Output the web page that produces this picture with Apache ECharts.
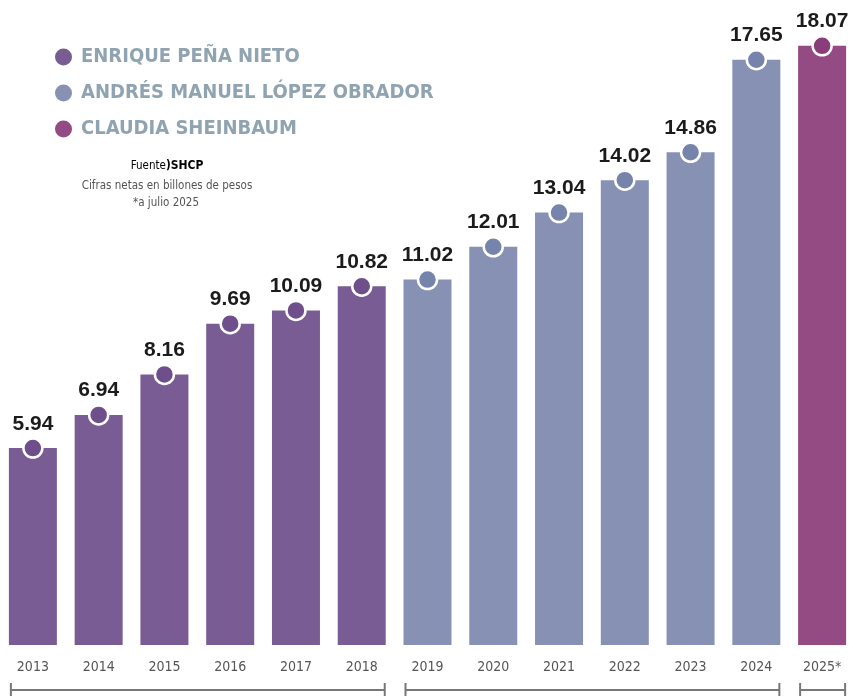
<!DOCTYPE html>
<html>
<head>
<meta charset="utf-8">
<script src="https://cdn.jsdelivr.net/npm/echarts@6/dist/echarts.min.js"></script>
<style>
  html, body { margin: 0; padding: 0; background: #fff; }
  #main { width: 855px; height: 696px; }
</style>
</head>
<body>
<div id="main"></div>
<script>
  // datos
  var years = ['2013', '2014', '2015', '2016', '2017', '2018', '2019', '2020', '2021', '2022', '2023', '2024', '2025*'];
  var values = [5.94, 6.94, 8.16, 9.69, 10.09, 10.82, 11.02, 12.01, 13.04, 14.02, 14.86, 17.65, 18.07];
  var presidents = ['ENRIQUE PEÑA NIETO', 'ANDRÉS MANUEL LÓPEZ OBRADOR', 'CLAUDIA SHEINBAUM'];
  var term = [0, 0, 0, 0, 0, 0, 1, 1, 1, 1, 1, 1, 2];

  var barColors = ['#7a5c95', '#8791b4', '#944a82'];
  var dotColors = ['#6f4f8b', '#7683ab', '#8a3d78'];
  var cond = 'DejaVu Sans Condensed, sans-serif';

  var chart = echarts.init(document.getElementById('main'));

  function pick(p) {
    return values.map(function (v, i) { return term[i] === p ? v : '-'; });
  }

  var series = [];
  presidents.forEach(function (name, p) {
    series.push({
      name: name,
      type: 'bar',
      stack: 'all',
      barWidth: 48,
      itemStyle: { color: barColors[p] },
      data: pick(p)
    });
  });
  presidents.forEach(function (name, p) {
    series.push({
      name: 'pt' + p,
      type: 'scatter',
      symbol: 'circle',
      symbolSize: 19,
      itemStyle: { color: dotColors[p], borderColor: '#fff', borderWidth: 2.5, opacity: 1 },
      label: {
        show: true,
        position: 'top',
        distance: 3,
        formatter: function (d) { return d.value.toFixed(2); },
        color: '#1b1b1b',
        fontFamily: 'Liberation Sans',
        fontWeight: 'bold',
        fontSize: 21
      },
      z: 5,
      data: pick(p)
    });
  });

  var option = {
    backgroundColor: '#fff',
    animation: false,
    grid: { left: 0, right: -3, top: 15, bottom: 51 },
    legend: {
      data: presidents,
      orient: 'vertical',
      left: 50,
      top: 42,
      icon: 'circle',
      itemWidth: 17,
      itemHeight: 17,
      itemGap: 16,
      textStyle: {
        color: '#8fa3b1',
        fontFamily: cond,
        fontWeight: 'bold',
        fontSize: 20,
        padding: [0, 0, 0, 4]
      }
    },
    xAxis: {
      type: 'category',
      data: years,
      axisLine: { show: false },
      axisTick: { show: false },
      axisLabel: {
        color: '#555',
        fontSize: 14,
        margin: 15,
        fontFamily: cond
      }
    },
    yAxis: {
      type: 'value',
      min: 0,
      max: 19,
      show: false
    },
    graphic: [{
      type: 'text',
      x: 167,
      y: 166,
      style: {
        text: '{a|Fuente}{b|)}{c|SHCP}',
        align: 'center',
        verticalAlign: 'middle',
        rich: {
          a: { fontSize: 11.5, color: '#555', fontFamily: cond },
          b: { fontSize: 11.5, color: '#6f4f8b', fontWeight: 'bold', fontFamily: cond },
          c: { fontSize: 12, color: '#222', fontWeight: 'bold', fontFamily: cond }
        }
      }
    }, {
      type: 'text',
      x: 167,
      y: 186,
      style: { text: 'Cifras netas en billones de pesos', align: 'center', verticalAlign: 'middle', fontSize: 11.5, fill: '#555', fontFamily: cond }
    }, {
      type: 'text',
      x: 166,
      y: 203,
      style: { text: '*a julio 2025', align: 'center', verticalAlign: 'middle', fontSize: 11.5, fill: '#555', fontFamily: cond }
    }],
    series: series
  };
  chart.setOption(option);

  // corchetes por sexenio
  var brackets = [];
  presidents.forEach(function (name, p) {
    var idx = [];
    term.forEach(function (t, i) { if (t === p) idx.push(i); });
    var x0 = chart.convertToPixel({ xAxisIndex: 0 }, years[idx[0]]) - 22;
    var x1 = chart.convertToPixel({ xAxisIndex: 0 }, years[idx[idx.length - 1]]) + 23;
    var y = 690;
    brackets.push({
      type: 'group',
      children: [
        { type: 'line', shape: { x1: x0, y1: y, x2: x1, y2: y }, style: { stroke: '#777', lineWidth: 2 } },
        { type: 'line', shape: { x1: x0, y1: y - 7, x2: x0, y2: y + 7 }, style: { stroke: '#777', lineWidth: 2 } },
        { type: 'line', shape: { x1: x1, y1: y - 7, x2: x1, y2: y + 7 }, style: { stroke: '#777', lineWidth: 2 } }
      ]
    });
  });
  chart.setOption({ graphic: option.graphic.concat(brackets) });
</script>
</body>
</html>
